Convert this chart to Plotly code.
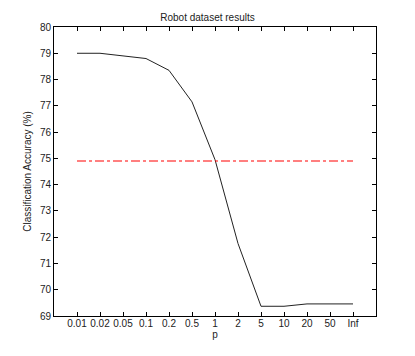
import plotly.graph_objects as go

p_labels = ["0.01", "0.02", "0.05", "0.1", "0.2", "0.5", "1", "2", "5", "10", "20", "50", "Inf"]
accuracy = [79.0, 79.0, 78.9, 78.8, 78.35, 77.15, 74.95, 71.76, 69.37, 69.37, 69.46, 69.46, 69.46]
baseline = [74.9] * len(p_labels)
y_ticks = list(range(69, 81))

idx = list(range(len(p_labels)))

fig = go.Figure()
fig.add_trace(go.Scatter(
    x=idx, y=accuracy, mode="lines",
    line=dict(color="#222", width=1),
    showlegend=False,
))
fig.add_trace(go.Scatter(
    x=idx, y=baseline, mode="lines",
    line=dict(color="red", width=1.2, dash="dashdot"),
    showlegend=False,
))

axis_style = dict(
    showline=True, linecolor="black", linewidth=1, mirror="ticks",
    ticks="inside", ticklen=4, tickcolor="black",
    showgrid=False, zeroline=False,
    tickfont=dict(size=10, color="#222"),
)

fig.update_xaxes(
    range=[-1, 13], tickvals=idx, ticktext=p_labels,
    ticklabelstandoff=-2,
    title=dict(text="p", font=dict(size=10, color="#222"), standoff=0),
    **axis_style,
)
fig.update_yaxes(
    range=[69, 80], tickvals=y_ticks,
    title=dict(text="Classification Accuracy (%)", font=dict(size=10, color="#222"), standoff=6),
    **axis_style,
)

fig.update_layout(
    width=415, height=356,
    paper_bgcolor="white", plot_bgcolor="white",
    font=dict(family="Liberation Sans, Arial, sans-serif", size=10, color="#222"),
    title=dict(text="Robot dataset results", x=0.5, xanchor="center", y=0.95, yanchor="middle",
               font=dict(size=10, color="#222")),
    margin=dict(l=54, r=39, t=27, b=40),
)

fig.write_html("out.html", config={"displayModeBar": False},
               post_script="document.body.style.margin='0';")
